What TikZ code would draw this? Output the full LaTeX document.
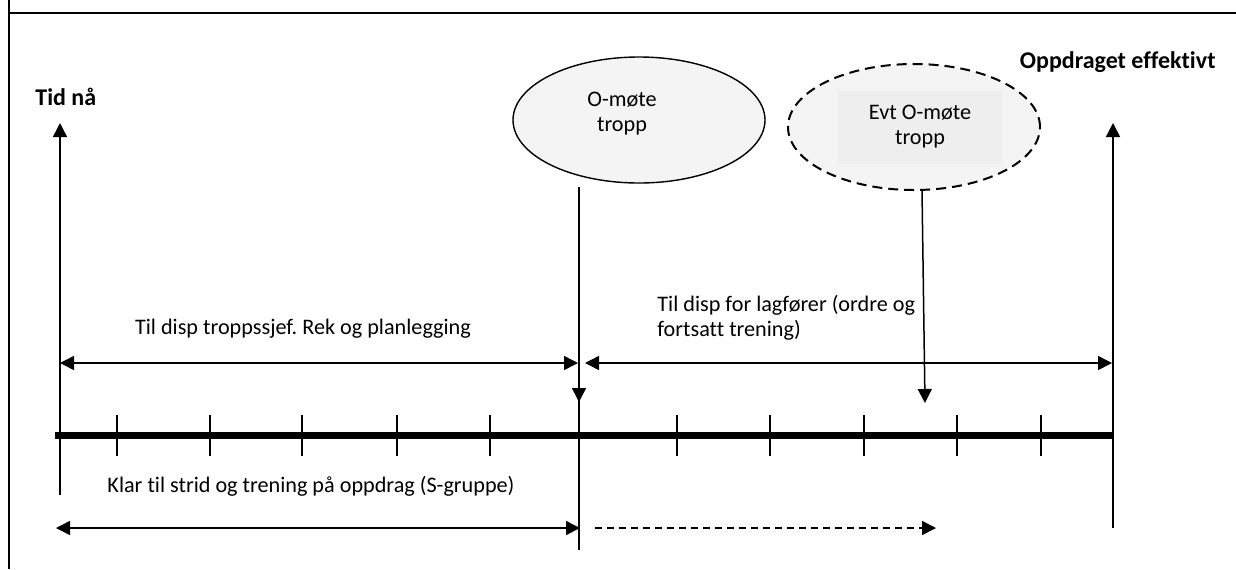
\documentclass[tikz,border=0pt]{standalone}
\usepackage{fontspec}
\setmainfont{Carlito}[Ligatures=NoCommon]
\frenchspacing
\usetikzlibrary{arrows.meta, shapes.geometric}

\begin{document}
\begin{tikzpicture}[x=0.5pt, y=-0.5pt, >={Triangle[length=7pt,width=7pt]},
  thinline/.style={line width=0.75pt},
  meeting/.style={ellipse, draw, line width=0.7pt, fill=gray!9, minimum width=126pt, minimum height=63pt, inner sep=0pt},
  txt/.style={font=\fontsize{11.1}{12.5}\selectfont, align=center, inner sep=0pt},
  headtxt/.style={inner sep=0pt, font=\fontsize{12}{13}\selectfont\bfseries}]
  \useasboundingbox (0,0) rectangle (1236,569);
  % frame
  \draw[line width=1pt] (9,0) -- (9,569);
  \draw[line width=1pt] (9,13) -- (1236,13);
  % headings
  \node[headtxt, anchor=west] (tidnaa) at (35,97) {Tid nå};
  \node[headtxt, anchor=east] (effektiv) at (1216,62) {Oppdraget effektivt};
  % timeline with ticks
  \coordinate (tstart) at (55,435);
  \coordinate (tend) at (1113,435);
  \draw[line width=3.5pt] (tstart) -- (tend);
  \foreach \x in {117,210,302,397,490,677,770,864,957,1041}
    \draw[thinline] (\x,415) -- (\x,456);
  % start and end markers
  \coordinate (nowlow) at (60,495);
  \coordinate (nowtop) at (60,123);
  \draw[->, thinline] (nowlow) -- (nowtop);
  \coordinate (endlow) at (1113,528);
  \coordinate (endtop) at (1113,123);
  \draw[->, thinline] (endlow) -- (endtop);
  % meetings
  \node[meeting] (omote) at (639,120) {};
  \node[txt] (omotetxt) at (622,114) {O-møte\\tropp};
  \node[meeting, line width=1pt, dash pattern=on 5pt off 3pt] (evtmote) at (914,127) {};
  \node[txt, fill=gray!13, minimum width=82pt, minimum height=36.5pt] (evttxt) at (920,127) {Evt O-møte\\tropp};
  % arrows down to the timeline
  \coordinate (mtop) at (579,187);
  \coordinate (mhit) at (579,402);
  \coordinate (mlow) at (579,550);
  \draw[thinline] (mtop) -- (mlow);
  \draw[->, thinline] (mtop) -- (mhit);
  \coordinate (etop) at (922,190);
  \coordinate (ehit) at (925,403);
  \draw[->, thinline] (etop) -- (ehit);
  % spans above the timeline
  \coordinate (spanA) at (60,363);
  \coordinate (spanB) at (578,363);
  \coordinate (spanC) at (585,363);
  \coordinate (spanD) at (1112,363);
  \draw[<->, thinline] (spanA) -- (spanB);
  \draw[<->, thinline] (spanC) -- (spanD);
  \node[txt] (leftspan) at (303,329) {Til disp troppssjef. Rek og planlegging};
  \node[txt, align=left, anchor=west] (rightspan) at (657,317.5) {Til disp for lagfører (ordre og\\fortsatt trening)};
  % spans below the timeline
  \coordinate (lowA) at (56,528);
  \coordinate (lowB) at (580,528);
  \coordinate (lowC) at (595,528);
  \coordinate (lowD) at (936,528);
  \draw[<->, thinline] (lowA) -- (lowB);
  \draw[->, thinline, dash pattern=on 3.5pt off 2.5pt] (lowC) -- (lowD);
  \node[txt] (strid) at (311,486) {Klar til strid og trening på oppdrag (S-gruppe)};
\end{tikzpicture}
\end{document}
